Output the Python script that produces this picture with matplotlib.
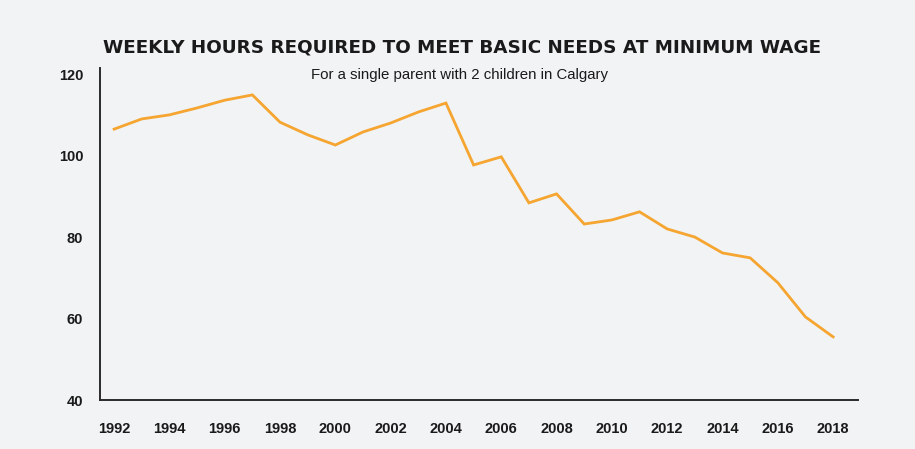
import matplotlib
matplotlib.use("Agg")
import matplotlib.pyplot as plt

# Weekly hours required to meet basic needs at minimum wage (Calgary, single parent, 2 kids)
years = list(range(1992, 2019))
hours = [106.5, 109.0, 110.0, 111.7, 113.6, 114.9, 108.2, 105.1, 102.6, 105.8,
         108.0, 110.7, 112.9, 97.7, 99.7, 88.4, 90.6, 83.2, 84.2, 86.2,
         82.0, 80.0, 76.1, 74.9, 68.8, 60.4, 55.5]
xtick_years = list(range(1992, 2019, 2))
ytick_vals = [40, 60, 80, 100, 120]

bg = '#f1f3f5'
fig = plt.figure(figsize=(9.15, 4.49), dpi=100, facecolor=bg)
ax = fig.add_axes([0.1093, 0.1091, 0.8284, 0.7394], facecolor=bg)

ax.plot(years, hours, color='#f5a530', linewidth=2.0, solid_joinstyle='miter')

ax.set_xlim(1991.49, 2018.9)
ax.set_ylim(40, 121.5)
ax.set_xticks(xtick_years)
ax.set_yticks(ytick_vals)
ax.tick_params(length=0, labelsize=10.5, colors='#1a1a1a')
ax.tick_params(axis='x', pad=16)
ax.tick_params(axis='y', pad=12)
for lbl in ax.get_xticklabels() + ax.get_yticklabels():
    lbl.set_fontweight('bold')
    lbl.set_family('Liberation Sans')

for side in ['top', 'right']:
    ax.spines[side].set_visible(False)
for side in ['left', 'bottom']:
    ax.spines[side].set_color('#2a2a2a')
    ax.spines[side].set_linewidth(1.4)

fig.text(0.505, 0.895, 'WEEKLY HOURS REQUIRED TO MEET BASIC NEEDS AT MINIMUM WAGE',
         ha='center', va='center', fontsize=13.2, fontweight='bold', color='#1a1a1a')
fig.text(0.502, 0.833, 'For a single parent with 2 children in Calgary',
         ha='center', va='center', fontsize=10.8, color='#1a1a1a', family='Liberation Sans')

fig.savefig('out.png', dpi=100, facecolor=bg)
